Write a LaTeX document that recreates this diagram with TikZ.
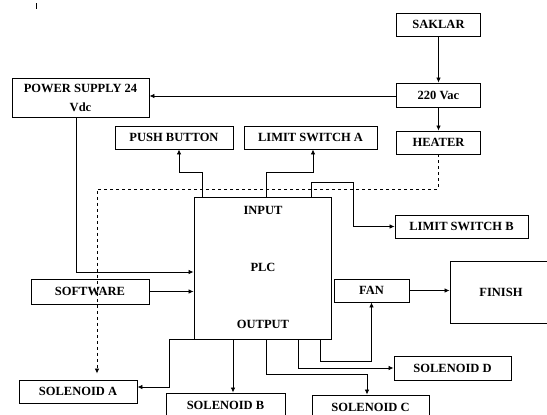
\documentclass[tikz,border=0pt]{standalone}
\usepackage{fontspec}
\setmainfont{Liberation Serif}
\usetikzlibrary{arrows.meta}

\tikzset{
  blk/.style={draw, line width=0.9pt, inner sep=0pt, align=center,
    font=\bfseries\fontsize{12.5}{19}\selectfont},
  lbl/.style={inner sep=0pt, font=\bfseries\fontsize{12.5}{14}\selectfont},
  wire/.style={line width=0.8pt, -{Latex[length=5pt,width=4.5pt]}},
}

\begin{document}
\begin{tikzpicture}[x=1pt, y=-1pt]
    \useasboundingbox (0,0) rectangle (547,415);

    % Stray mark at top left
    \draw[line width=0.8pt] (36,3) -- (36,9);

    % Mains side
    \node[blk, minimum width=84pt, minimum height=23pt] (saklar) at (438.5,24.5) {SAKLAR};
    \node[blk, minimum width=84pt, minimum height=24pt] (vac) at (438.5,95) {220 Vac};
    \node[blk, minimum width=84pt, minimum height=23pt] (heater) at (438.5,142.5) {HEATER};
    \node[blk, minimum width=137pt, minimum height=39pt] (power) at (80.5,97.5) {POWER SUPPLY 24\\Vdc};

    % Inputs
    \node[blk, minimum width=118pt, minimum height=23pt] (push) at (174,137.5) {PUSH BUTTON};
    \node[blk, minimum width=133pt, minimum height=23pt] (lsa) at (310.5,137.5) {LIMIT SWITCH A};
    \node[blk, minimum width=133pt, minimum height=23pt] (lsb) at (461.5,226.5) {LIMIT SWITCH B};
    \node[blk, minimum width=118pt, minimum height=25pt] (software) at (90,291.5) {SOFTWARE};

    % PLC
    \node[blk, minimum width=137pt, minimum height=142pt] (plc) at (262.5,268) {};
    \node[lbl] (plcin) at (263,210) {INPUT};
    \node[lbl] (plcname) at (263,267) {PLC};
    \node[lbl] (plcout) at (263,324) {OUTPUT};

    % Outputs
    \node[blk, minimum width=75pt, minimum height=23pt] (fan) at (371.5,290.5) {FAN};
    \node[blk, minimum width=102pt, minimum height=62pt] (finish) at (501,292) {FINISH};
    \node[blk, minimum width=117pt, minimum height=24pt] (sold) at (452.5,368) {SOLENOID D};
    \node[blk, minimum width=117pt, minimum height=24pt] (solc) at (370.5,407) {SOLENOID C};
    \node[blk, minimum width=119pt, minimum height=24pt] (solb) at (225.5,405) {SOLENOID B};
    \node[blk, minimum width=118pt, minimum height=23pt] (sola) at (78,391.5) {SOLENOID A};

    % Supply wiring
    \draw[wire] (saklar) -- (vac);
    \draw[wire] (vac) -- (heater);
    \draw[wire] ([yshift=-1pt]vac.west) -- ([yshift=-1pt]vac.west -| power.east);
    \draw[wire] ([xshift=-4.5pt]power.south) |- ([yshift=-4pt]plc.west);
    \draw[wire] (software.east) -- (software.east -| plc.west);

    % Heater to solenoid A (dashed)
    \coordinate (dbend) at (97,189);
    \draw[wire, dashed] (heater.south) |- (dbend) -- ([yshift=6pt]dbend |- sola.north);

    % PLC input side
    \coordinate (lsbturn) at (353,226.5);
    \draw[wire] ([xshift=-60.5pt]plc.north) -- ++(0,-24) -| ([xshift=5pt]push.south);
    \draw[wire] ([xshift=3.5pt]plc.north) -- ++(0,-24) -| ([xshift=2.5pt]lsa.south);
    \draw[wire] ([xshift=48.5pt]plc.north) -- ++(0,-14) -| (lsbturn) -- (lsb.west);

    % PLC output side
    \coordinate (outb) at ([xshift=-29.5pt]plc.south);
    \coordinate (outc) at ([xshift=3.5pt]plc.south);
    \coordinate (outd) at ([xshift=35.5pt]plc.south);
    \coordinate (oute) at ([xshift=57.5pt]plc.south);
    \draw[wire] (plc.south west) -- ++(-24,0) |- ([yshift=4.5pt]sola.east);
    \draw[wire] (outb) -- (outb |- solb.north);
    \draw[wire] (outc) -- ++(0,35) -| ([xshift=-3.5pt]solc.north);
    \draw[wire] (outd) |- (sold.west);
    \draw[wire] (oute) -- ++(0,22) -| (fan.south);
    \draw[wire] (fan.east) -- (fan.east -| finish.west);

\end{tikzpicture}
\end{document}
